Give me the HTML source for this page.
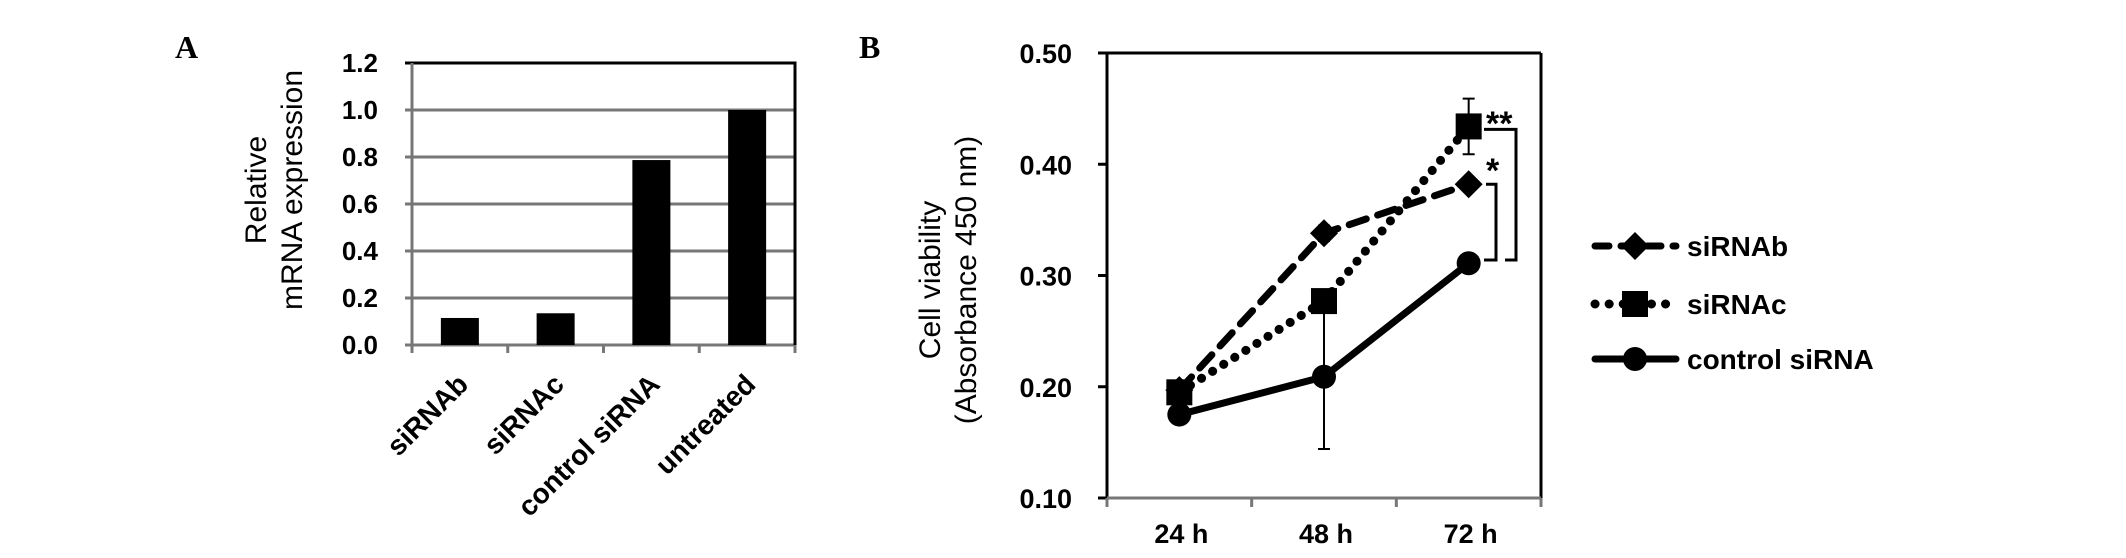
<!DOCTYPE html>
<html><head><meta charset="utf-8"><style>
html,body{margin:0;padding:0;background:#fff;}
svg{display:block;font-family:"Liberation Sans",Arial,sans-serif;}
</style></head><body>
<svg id="chart" width="2126" height="558" viewBox="0 0 2126 558" xmlns="http://www.w3.org/2000/svg">
<text x="175" y="58" font-family="Liberation Serif,serif" font-weight="bold" font-size="32">A</text>
<text x="859" y="58" font-family="Liberation Serif,serif" font-weight="bold" font-size="32">B</text>
<g id="panelA"></g>
<g id="panelB"></g>
</svg>
<script>
const catsA = ["siRNAb","siRNAc","control siRNA","untreated"];
const valsA = [0.115,0.135,0.787,1.0];
const ticksA = ["0.0","0.2","0.4","0.6","0.8","1.0","1.2"];
const catsB = ["24 h","48 h","72 h"];
const seriesNames = ["siRNAb","siRNAc","control siRNA"];
const valsSiRNAb = [0.197,0.338,0.382];
const errSiRNAb = [0.004,0.007,0.005];
const valsSiRNAc = [0.195,0.277,0.434];
const errSiRNAc = [0.004,0.004,0.025];
const valsControl = [0.175,0.209,0.311];
const errControl = [0.004,0.065,0.004];
const ticksB = ["0.10","0.20","0.30","0.40","0.50"];

const NS="http://www.w3.org/2000/svg";
function mk(p,tag,attrs,txt){const e=document.createElementNS(NS,tag);for(const k in attrs)e.setAttribute(k,attrs[k]);if(txt!==undefined)e.textContent=txt;p.appendChild(e);return e;}

// Panel A
const A=document.getElementById('panelA');
const aL=412,aR=795,aT=63,aB=345,aMax=1.2;
const yA=v=>aB-(v/aMax)*(aB-aT);
const bwA=(aR-aL)/catsA.length;
ticksA.forEach((t,i)=>{const v=parseFloat(t);const y=yA(v);
 const g=mk(A,'line',{x1:405,x2:aR,y1:y,y2:y,stroke:(v===1.2?'#000':'#777'),'stroke-width':3});
 
 
 const tx=mk(A,'text',{x:378,y:y+9,'text-anchor':'end','font-size':26,'font-weight':'bold'},t);
 
 
});
const axA=mk(A,'line',{x1:aL,x2:aL,y1:aT,y2:aB+8,stroke:'#777','stroke-width':3});


const rbA=mk(A,'line',{x1:aR,x2:aR,y1:aT-1.5,y2:aB,stroke:'#000','stroke-width':3});


for(let i=1;i<=catsA.length;i++){const x=aL+i*bwA;
 const tk=mk(A,'line',{x1:x,x2:x,y1:aB,y2:aB+8,stroke:'#777','stroke-width':3});
 
 }
catsA.forEach((c,i)=>{const cx=aL+(i+0.5)*bwA;const y=yA(valsA[i]);
 const r=mk(A,'rect',{x:cx-19,y:y,width:38,height:aB-y,fill:'#000'});
 
 
 const t=mk(A,'text',{x:0,y:0,'text-anchor':'end','font-size':28,'font-weight':'bold',transform:`translate(${cx+10},${386}) rotate(-45)`},c);
 
 
});
const tA=mk(A,'text',{'text-anchor':'middle','font-size':30,transform:'translate(266,190) rotate(-90)'});


mk(tA,'tspan',{x:0,dy:0},'Relative');
mk(tA,'tspan',{x:0,dy:36},'mRNA expression');

// Panel B
const B=document.getElementById('panelB');
const bL=1107,bR=1541,bT=53,bBt=498,bMin=0.1,bMax=0.5;
const yB=v=>bBt-(v-bMin)/(bMax-bMin)*(bBt-bT);
const cw=(bR-bL)/catsB.length;
const xB=i=>bL+(i+0.5)*cw;
const frame=[[bL,bT,bR,bT,'#000'],[bR,bT,bR,bBt,'#000'],[bL,bT-1.5,bL,bBt,'#000'],[bL,bBt,bR,bBt,'#777']];
frame.forEach(f=>{const l=mk(B,'line',{x1:f[0],y1:f[1],x2:f[2],y2:f[3],stroke:f[4],'stroke-width':3});
 
 });
ticksB.forEach(t=>{const y=yB(parseFloat(t));
 const l=mk(B,'line',{x1:1098,x2:bL,y1:y,y2:y,stroke:'#000','stroke-width':3});
 
 
 const tx=mk(B,'text',{x:1072,y:y+10,'text-anchor':'end','font-size':27,'font-weight':'bold'},t);
 
 });
for(let i=0;i<=catsB.length;i++){const x=bL+i*cw;
 const l=mk(B,'line',{x1:x,x2:x,y1:bBt,y2:bBt+9,stroke:'#777','stroke-width':3});
 
 }
catsB.forEach((c,i)=>{const t=mk(B,'text',{x:xB(i)+2,y:543,'text-anchor':'middle','font-size':27,'font-weight':'bold'},c);
 
 });
const tB=mk(B,'text',{'text-anchor':'middle','font-size':30,transform:'translate(940,280) rotate(-90)'});


mk(tB,'tspan',{x:0,dy:0},'Cell viability');
mk(tB,'tspan',{x:0,dy:36},'(Absorbance 450 nm)');

const styles=[
 {vals:valsSiRNAb,err:errSiRNAb,dash:'18 12',cap:'round',marker:'diamond',name:'siRNAb'},
 {vals:valsSiRNAc,err:errSiRNAc,dash:'0.1 13',cap:'round',marker:'square',name:'siRNAc'},
 {vals:valsControl,err:errControl,dash:'',cap:'round',marker:'circle',name:'control-siRNA'}];
function marker(p,type,x,y){let e;
 if(type==='diamond')e=mk(p,'polygon',{points:`${x},${y-14} ${x+14},${y} ${x},${y+14} ${x-14},${y}`,fill:'#000'});
 else if(type==='square')e=mk(p,'rect',{x:x-13,y:y-13,width:26,height:26,fill:'#000'});
 else e=mk(p,'circle',{cx:x,cy:y,r:12,fill:'#000'});
 return e;}
// error bars
styles.forEach(s=>{s.vals.forEach((v,i)=>{const x=xB(i);const y1=yB(v+s.err[i]),y2=yB(v-s.err[i]);
 const g=mk(B,'path',{d:`M${x},${y1}V${y2}M${x-6},${y1}H${x+6}M${x-6},${y2}H${x+6}`,stroke:'#000','stroke-width':2,fill:'none'});
 
 });});
styles.forEach(s=>{const d=s.vals.map((v,i)=>(i?'L':'M')+xB(i)+','+yB(v)).join('');
 const attrs={d:d,stroke:'#000','stroke-width':s.marker==='square'?9:7,fill:'none','stroke-linecap':s.cap,'stroke-linejoin':'round'};
 if(s.dash)attrs['stroke-dasharray']=s.dash;
 const p=mk(B,'path',attrs);
 
 
 s.vals.forEach((v,i)=>{const m=marker(B,s.marker,xB(i),yB(v));
  
  });});
// significance brackets
const br1=mk(B,'path',{d:`M1484,${yB(0.434)+3}H1516V260H1505`,stroke:'#000','stroke-width':3,fill:'none'});


const br2=mk(B,'path',{d:`M1486,${yB(0.382)}H1496V260H1484`,stroke:'#000','stroke-width':3,fill:'none'});


const s1=mk(B,'text',{x:1486,y:135,'font-size':34,'font-weight':'bold'},'**');


const s2=mk(B,'text',{x:1486,y:182,'font-size':34,'font-weight':'bold'},'*');



// legend
const legY=[246,304,359];
styles.forEach((s,i)=>{const g=mk(B,'g',{});
 
 
 const attrs={d:`M1595,${legY[i]}H1676`,stroke:'#000','stroke-width':s.marker==='square'?9:7,fill:'none','stroke-linecap':'round'};
 if(s.dash)attrs['stroke-dasharray']=s.dash==='18 12'?'14 12':'0.1 14';
 mk(g,'path',attrs);
 marker(g,s.marker,1635,legY[i]);
 mk(g,'text',{x:1687,y:legY[i]+10,'font-size':28,'font-weight':'bold'},seriesNames[i]);});
</script>
</body></html>
